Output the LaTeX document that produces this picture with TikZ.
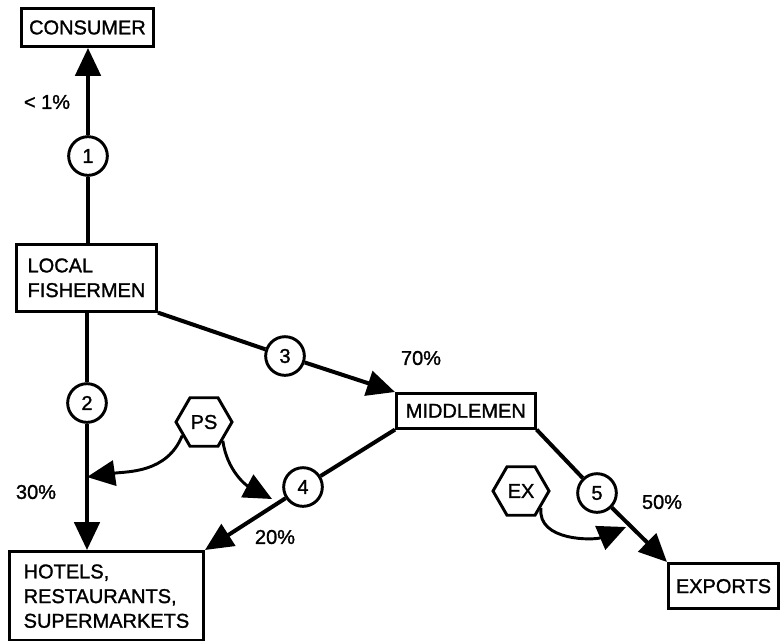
\documentclass[tikz,border=0pt]{standalone}
\usepackage{fontspec}
\setmainfont{Liberation Sans}[FakeBold=1.3]
\usetikzlibrary{arrows.meta,shapes.geometric}

\begin{document}
\begin{tikzpicture}[x=0.75pt,y=0.75pt,yscale=-1,xscale=1,
    font=\fontsize{15}{18.5}\selectfont,
    box/.style={draw, line width=2.2pt, inner sep=0pt, align=left, anchor=north west},
    stage/.style={draw, circle, line width=2.2pt, minimum size=29pt, inner sep=0pt, fill=white},
    agent/.style={draw, regular polygon, regular polygon sides=6, line width=2.2pt, minimum size=42pt, inner sep=0pt},
    flow/.style={line width=3pt},
    flowarrow/.style={line width=3pt, -{Triangle[length=21pt,width=19pt]}},
    push/.style={line width=2.2pt, -{Triangle[length=21pt,width=19pt]}}
  ]
  \clip (0,0) rectangle (780,640);

  % Boxes
  \node[box, minimum width=99pt, minimum height=28.5pt] (consumer) at (20,7) {CONSUMER};
  \node[box, minimum width=105pt, minimum height=50pt] (fisher) at (15,243) {LOCAL\\FISHERMEN};
  \node[box, minimum width=104pt, minimum height=26pt] (middle) at (395,392) {MIDDLEMEN};
  \node[box, minimum width=82.5pt, minimum height=34pt] (exports) at (667,562) {EXPORTS};
  \node[box, minimum width=145.5pt, minimum height=67pt] (hotels) at (8,550) {HOTELS,\\RESTAURANTS,\\SUPERMARKETS};

  % Numbered stages
  \node[stage] (c1) at (88,156) {1};
  \node[stage] (c2) at (87,403) {2};
  \node[stage] (c3) at (285,356) {3};
  \node[stage] (c4) at (303,487) {4};
  \node[stage] (c5) at (597,493) {5};

  % Hexagons
  \node[agent] (ps) at (204,422) {PS};
  \node[agent] (ex) at (521,491) {EX};

  % Percentages
  \node (p1) at (47,102) {< 1\%};
  \node (p2) at (36,492) {30\%};
  \node (p3) at (421,358) {70\%};
  \node (p4) at (275,537) {20\%};
  \node (p5) at (662,502) {50\%};

  % Flows
  \draw[flow] (fisher.north -| c1) -- (c1);
  \draw[flowarrow] (c1) -- (consumer.south -| c1);
  \draw[flow] (fisher.south -| c2) -- (c2);
  \draw[flowarrow] (c2) -- (hotels.north -| c2);
  \draw[flow] (fisher.south east) -- (c3);
  \draw[flowarrow] (c3) -- (middle.north west);
  \draw[flow] (middle.south west) -- (c4);
  \draw[flowarrow] (c4) -- (hotels.north east);
  \draw[flow] (middle.south east) -- (c5);
  \draw[flowarrow] (c5) -- (exports.north west);

  % Influences
  \coordinate (psa) at (87,477);
  \coordinate (psb) at (272,499);
  \coordinate (exa) at (626,527);
  \draw[push] (ps.212) to[out=112, in=-8] (psa);
  \draw[push] (ps.-45) to[out=82, in=208] (psb);
  \draw[push] (ex.-40) to[out=97, in=157] (exa);

\end{tikzpicture}
\end{document}
